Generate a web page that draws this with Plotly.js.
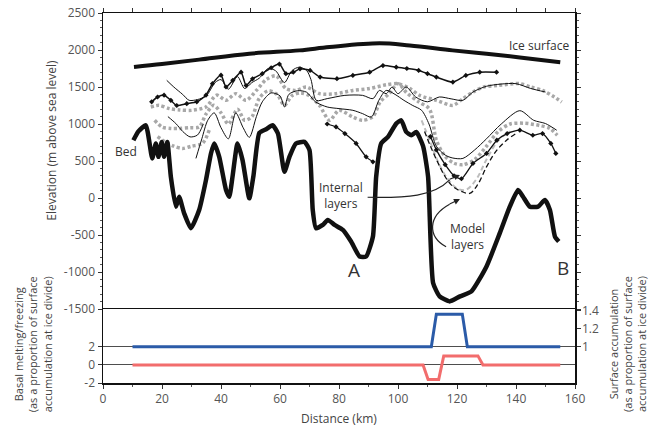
<!DOCTYPE html>
<html>
<head>
<meta charset="utf-8">
<script src="https://cdn.plot.ly/plotly-3.0.1.min.js"></script>
<style>html,body{margin:0;padding:0;background:#fff}#chart{width:658px;height:431px}</style>
</head>
<body>
<div id="chart"></div>
<script>
// ---- Data (distance in km, elevation in m) ----
const iceDist = [10.5, 20, 32.6, 49.6, 66.6, 76.8, 93.7, 104, 118.5, 130, 141.3, 155];
const iceElev = [1770, 1810, 1870, 1950, 1995, 2040, 2090, 2060, 1995, 1950, 1900, 1835];

const bedDist = [10.3, 12, 14.5, 16.7, 17.9, 18.8, 19.9, 20.7, 21.8, 23, 24.7, 25.8, 27.5, 29.8, 32.6, 34.9, 36.6, 37.7, 39.4, 41.7, 42.8, 43.9, 45.6, 47.3, 49.6, 51, 53, 55.3, 57.5, 59.3, 61.5, 63.2, 65.4, 68.3, 70, 71.1, 72.2, 74.5, 76.2, 78.5, 81.3, 84.1, 87, 89.2, 91.5, 92.6, 94.3, 96.6, 99.4, 101.1, 102.8, 104.5, 106.2, 108.5, 110.2, 111.9, 114.1, 117.5, 121, 124.9, 130, 134.5, 137.9, 140.7, 142.4, 144.7, 147.5, 149.8, 151.5, 153.2, 154.5];
const bedElev = [780, 900, 983, 535, 737, 556, 758, 556, 758, 287, -117, 17, -206, -408, -162, 242, 602, 737, 556, 108, 17, 287, 737, 512, -4, 300, 880, 930, 983, 871, 354, 556, 737, 758, 646, -162, -408, -364, -296, -364, -431, -588, -790, -790, -521, 287, 737, 826, 1006, 1050, 893, 848, 893, 700, 287, -1149, -1329, -1397, -1330, -1262, -925, -475, -117, 108, 17, -117, -117, -27, -162, -521, -588];

// observed internal layers
const obs1Dist = [16.5, 18.5, 20.7, 23, 25, 28.4, 31.8, 34.9, 37.1, 40, 41.7, 44, 46.8, 48.5, 50.7, 54, 57, 59.8, 62, 64.5, 66.8, 70.2, 73.6, 79.3, 84.7, 90.4, 94.9, 99.4, 103, 107, 110, 113, 118.6, 123, 127.7, 133.4];
const obs1Elev = [1300, 1365, 1390, 1320, 1250, 1275, 1300, 1390, 1545, 1660, 1500, 1590, 1700, 1520, 1610, 1680, 1760, 1810, 1680, 1700, 1745, 1724, 1634, 1612, 1657, 1700, 1790, 1768, 1750, 1724, 1680, 1634, 1566, 1657, 1701, 1701];

const obs2Dist = [16.2, 19, 22.5, 26, 30, 34.9, 38.5, 41.7, 45, 48.5, 52, 55.3, 58.7, 62, 65.4, 68.9, 73.4, 79, 84.7, 90.4, 96, 100, 104, 107.3, 113, 118.6, 122, 125.4, 129, 134, 141.3, 145, 149, 153, 155.5];
const obs2Elev = [1230, 1252, 1208, 1190, 1185, 1230, 1390, 1320, 1410, 1320, 1454, 1600, 1650, 1480, 1454, 1500, 1410, 1410, 1454, 1480, 1530, 1545, 1480, 1387, 1320, 1252, 1343, 1432, 1499, 1522, 1545, 1499, 1454, 1365, 1297];

const obs3Dist = [17.5, 20, 23, 26, 29.5, 32.6, 35, 37.5, 40, 42.5, 45.6, 48, 50.5, 53, 56, 59, 61.5, 64, 67, 70, 73.4, 76.8, 80, 84.7, 88, 91.5, 94, 97, 100, 103, 107, 110.7, 113, 116, 119, 122, 126, 130, 134, 138, 143, 148, 151.5, 154];
const obs3Elev = [1050, 960, 940, 940, 950, 960, 1140, 1252, 1150, 1000, 1200, 1050, 1100, 1350, 1450, 1400, 1250, 1380, 1420, 1380, 1250, 1050, 1185, 1095, 1050, 1100, 1300, 1410, 1545, 1420, 1300, 1200, 781, 560, 470, 450, 520, 700, 900, 1000, 1010, 980, 940, 848];

const obs4Dist = [76, 79, 82, 85.8, 89.2, 91.5, null, 111, 113, 116, 119, 121.5, 125.4, 130, 133.5, 137, 141.3, 145.7, 149, 151.8, 153.5];
const obs4Elev = [1000, 960, 871, 737, 556, 489, null, 830, 650, 450, 300, 260, 467, 602, 781, 871, 916, 848, 871, 737, 602];

const obs5Dist = [18.5, 21, 24, 27, 30, 33.7, 36];
const obs5Elev = [830, 760, 700, 670, 700, 737, 916];

// model layers
const mod1Dist = [21.6, 24, 27, 29.2, 32, 35, 38, 40, 42.5, 45.6, 48, 50.5, 53, 56, 58.5, 61.5, 64, 66.5, 69, 70.5, 72.3, 76, 82, 88, 91.5, 93.7, 96, 98, 100, 102.8, 106, 110, 114, 118, 122, 125.4, 130, 135, 140, 145, 150];
const mod1Elev = [1590, 1500, 1400, 1320, 1330, 1380, 1560, 1600, 1470, 1640, 1480, 1560, 1620, 1750, 1720, 1560, 1720, 1768, 1724, 1600, 1320, 1343, 1387, 1387, 1343, 1454, 1410, 1499, 1410, 1499, 1365, 1300, 1365, 1340, 1320, 1432, 1510, 1540, 1545, 1480, 1432];

const mod2Dist = [31.5, 33.5, 35.5, 37.7, 40, 42.5, 45, 47.5, 49.6, 52, 54, 57, 60, 61.5, 63, 66, 69, 72, 76, 80, 84.7, 88, 91, 93.5, 96, 99, 102, 105, 108, 110.5, 113, 116, 118.6, 122, 126, 130, 135, 141.3, 146, 150, 153.8];
const mod2Elev = [535, 800, 1050, 1150, 950, 800, 1150, 950, 820, 1100, 1300, 1420, 1380, 1230, 1400, 1450, 1430, 1300, 1230, 1208, 1185, 1140, 1095, 1320, 1454, 1400, 1320, 1250, 1185, 1000, 700, 580, 540, 535, 650, 800, 1000, 1180, 1050, 1006, 916];

const mod3Dist = [109, 111, 113.5, 116, 118.7, 121.5, 124.3, 127, 130, 133, 136.8, 140];
const mod3Elev = [900, 700, 480, 287, 152, 90, 62, 180, 420, 620, 781, 870];

const mod4Dist = [108, 111, 114, 117, 120, 123, 126.5, 130, 134, 138];
const mod4Elev = [1050, 750, 450, 250, 130, 110, 250, 520, 780, 900];

const mod5Dist = [22, 24.7, 27, 29.5, 32, 34];
const mod5Elev = [1100, 1006, 900, 826, 850, 1000];

// lower panel
const accumDist = [10, 111.3, 113, 121.8, 123.5, 155];
const accumVal = [1, 1, 1.355, 1.355, 1, 1];
const meltDist = [10, 108.5, 110.2, 113.8, 115.5, 127.1, 128.8, 155];
const meltVal = [0, 0, -1.6, -1.6, 1.0, 1.0, 0, 0];

// tick labels
const elevTicks = [2500, 2000, 1500, 1000, 500, 0, -500, -1000, -1500];
const elevTickText = ['2500', '2000', '1500', '1000', '500', '0', '-500', '-1000', '-1500'];
const meltTicks = [-2, 0, 2];
const meltTickText = ['-2', '0', '2'];
const accumTicks = [1, 1.2, 1.4];
const accumTickText = ['1', '1.2', '1.4'];

const FONT = 'Open Sans, Noto Sans, sans-serif';
const thin = {color: '#111', width: 1, shape: 'spline', smoothing: 0.8};
const grayDot = {color: '#a8a8a8', width: 3.5, dash: '3px,2.5px', shape: 'spline', smoothing: 0.8};

const traces = [
  {x: obs2Dist, y: obs2Elev, mode: 'lines', line: grayDot, xaxis: 'x', yaxis: 'y'},
  {x: obs3Dist, y: obs3Elev, mode: 'lines', line: grayDot, xaxis: 'x', yaxis: 'y'},
  {x: obs5Dist, y: obs5Elev, mode: 'lines', line: grayDot, xaxis: 'x', yaxis: 'y'},
  {x: mod4Dist, y: mod4Elev, mode: 'lines', line: {color: '#bdbdbd', width: 2, dash: '5px,3px', shape: 'spline'}, xaxis: 'x', yaxis: 'y'},
  {x: mod1Dist, y: mod1Elev, mode: 'lines', line: thin, xaxis: 'x', yaxis: 'y'},
  {x: mod2Dist, y: mod2Elev, mode: 'lines', line: thin, xaxis: 'x', yaxis: 'y'},
  {x: mod5Dist, y: mod5Elev, mode: 'lines', line: thin, xaxis: 'x', yaxis: 'y'},
  {x: mod3Dist, y: mod3Elev, mode: 'lines', line: {color: '#111', width: 1.3, dash: '5px,3px', shape: 'spline'}, xaxis: 'x', yaxis: 'y'},
  {x: obs1Dist, y: obs1Elev, mode: 'lines+markers', line: {color: '#111', width: 1.5, shape: 'spline', smoothing: 0.6}, marker: {symbol: 'diamond', size: 4, color: '#111'}, xaxis: 'x', yaxis: 'y'},
  {x: obs4Dist, y: obs4Elev, mode: 'lines+markers', connectgaps: false, line: {color: '#111', width: 1.3, shape: 'spline', smoothing: 0.6}, marker: {symbol: 'diamond', size: 4, color: '#111'}, xaxis: 'x', yaxis: 'y'},
  {x: iceDist, y: iceElev, mode: 'lines', line: {color: '#111', width: 4, shape: 'spline'}, xaxis: 'x', yaxis: 'y'},
  {x: bedDist, y: bedElev, mode: 'lines', line: {color: '#111', width: 4.5, shape: 'spline', smoothing: 0.5}, xaxis: 'x', yaxis: 'y'},
  {x: meltDist, y: meltVal, mode: 'lines', line: {color: '#f26d6d', width: 3}, xaxis: 'x2', yaxis: 'y2'},
  {x: accumDist, y: accumVal, mode: 'lines', line: {color: '#2b5ba8', width: 3}, xaxis: 'x2', yaxis: 'y3'}
];

function axisCommon() {
  return {
    showline: true, linecolor: '#111', linewidth: 1.5, ticks: 'outside', tickcolor: '#333',
    ticklen: 4, tickwidth: 1, showgrid: false, zeroline: false, color: '#555',
    tickfont: {family: FONT, size: 12, color: '#555'}
  };
}

const ann = (text, x, y, size, extra) => Object.assign({
  text: text, x: x, y: y, xref: 'x', yref: 'y', showarrow: false,
  font: {family: FONT, size: size, color: '#333'}
}, extra || {});

// right-axis tick labels as text annotations (keeps them the same grey as the other labels)
const rightTickAnns = accumTicks.map((v, i) => ({
  text: accumTickText[i], x: 1, y: v, xref: 'paper', yref: 'y3', xanchor: 'left', yanchor: 'middle',
  xshift: 5, showarrow: false, font: {family: FONT, size: 12, color: '#555'}
}));

const layout = {
  width: 658, height: 431,
  margin: {l: 103, r: 83, t: 13, b: 48},
  paper_bgcolor: '#fff', plot_bgcolor: '#fff',
  showlegend: false,
  xaxis: Object.assign(axisCommon(), {domain: [0, 1], anchor: 'y', range: [0, 160], side: 'top', dtick: 10, showticklabels: false, mirror: false}),
  yaxis: Object.assign(axisCommon(), {domain: [0.2, 1], anchor: 'x', range: [-1500, 2500], tickvals: elevTicks, ticktext: elevTickText, mirror: 'ticks',
    minor: {dtick: 100, ticklen: 2, ticks: 'outside', tickcolor: '#555', showgrid: false}}),
  xaxis2: Object.assign(axisCommon(), {domain: [0, 1], anchor: 'y2', range: [0, 160], dtick: 20, mirror: true,
    minor: {dtick: 10, ticklen: 2, ticks: 'outside', tickcolor: '#555', showgrid: false}}),
  yaxis2: Object.assign(axisCommon(), {domain: [0, 0.2], anchor: 'x2', range: [-2, 6.19], tickvals: meltTicks, ticktext: meltTickText,
    showgrid: true, gridcolor: '#222', gridwidth: 0.8}),
  yaxis3: Object.assign(axisCommon(), {overlaying: 'y2', side: 'right', anchor: 'x2', range: [0.604, 1.411], tickvals: accumTicks, showticklabels: false}),
  annotations: [
    ann('Ice surface', 147.8, 2060, 12),
    ann('Bed', 7.7, 624, 12),
    ann('Internal<br>layers', 80.7, 40, 12, {align: 'center'}),
    ann('Model<br>layers', 123.7, -521, 12, {align: 'center'}),
    ann('A', 85, -970, 19),
    ann('B', 156, -943, 19),
    // arrowheads
    {x: 121, y: 310, ax: 117, ay: 245, xref: 'x', yref: 'y', axref: 'x', ayref: 'y', text: '', showarrow: true, arrowhead: 2, arrowsize: 1, arrowwidth: 1.2, arrowcolor: '#222', standoff: 0},
    {x: 121, y: -15, ax: 117, ay: -90, xref: 'x', yref: 'y', axref: 'x', ayref: 'y', text: '', showarrow: true, arrowhead: 2, arrowsize: 1, arrowwidth: 1.2, arrowcolor: '#222', standoff: 0},
    // axis titles
    {text: 'Elevation (m above sea level)', xref: 'paper', yref: 'paper', x: -0.108, y: 0.655, xanchor: 'center', yanchor: 'middle', textangle: -90, showarrow: false,
      font: {family: FONT, size: 12, color: '#444'}},
    {text: 'Basal melting/freezing<br>(as a proportion of surface<br>accumulation at ice divide)', xref: 'paper', yref: 'paper', x: -0.148, y: 0.105, xanchor: 'center', yanchor: 'middle', textangle: -90, showarrow: false,
      font: {family: FONT, size: 11, color: '#444'}},
    {text: 'Surface accumulation<br>(as a proportion of surface<br>accumulation at ice divide)', xref: 'paper', yref: 'paper', x: 1.112, y: 0.105, xanchor: 'center', yanchor: 'middle', textangle: -90, showarrow: false,
      font: {family: FONT, size: 11, color: '#444'}},
    {text: 'Distance (km)', xref: 'paper', yref: 'paper', x: 0.5, y: -0.095, xanchor: 'center', yanchor: 'middle', showarrow: false,
      font: {family: FONT, size: 12, color: '#444'}}
  ].concat(rightTickAnns),
  shapes: [
    {type: 'path', xref: 'x', yref: 'y', path: 'M 89.7,10 C 103,0 112,20 117.5,245', line: {color: '#222', width: 1.2}},
    {type: 'path', xref: 'x', yref: 'y', path: 'M 116.3,-660 C 110,-520 110,-250 117.5,-85', line: {color: '#222', width: 1.2}}
  ]
};

Plotly.newPlot('chart', traces, layout, {staticPlot: true, displayModeBar: false});
</script>
</body>
</html>
